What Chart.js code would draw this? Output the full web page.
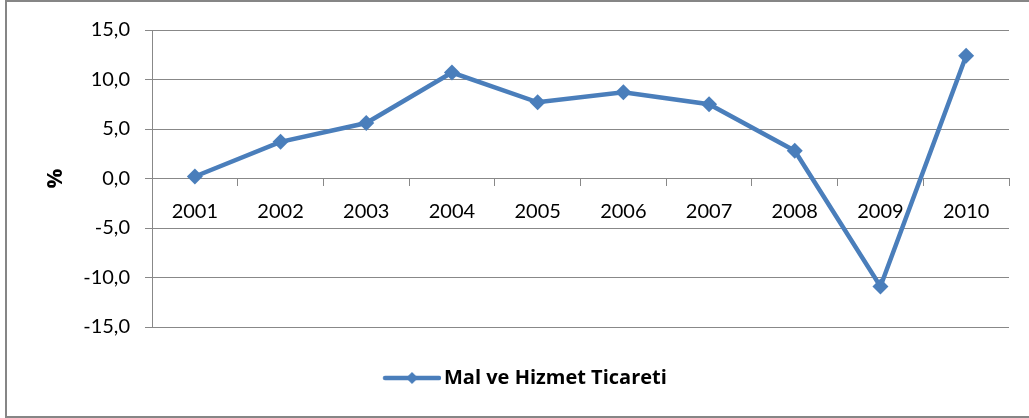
<!DOCTYPE html>
<html>
<head>
<meta charset="utf-8">
<script src="https://cdn.jsdelivr.net/npm/chart.js@4"></script>
<style>
  html, body { margin: 0; padding: 0; background: #fff; overflow: hidden; }
  #wrap { position: relative; width: 1029px; height: 418px; }
  #frame { position: absolute; left: 5px; top: 0; width: 1100px; height: 418px; box-sizing: border-box;
           border: 2px solid #868686; pointer-events: none; }
</style>
</head>
<body>
<div id="wrap">
  <canvas id="c" width="1029" height="418"></canvas>
  <div id="frame"></div>
</div>
<script>
const years = ['2001', '2002', '2003', '2004', '2005', '2006', '2007', '2008', '2009', '2010'];
const tradeValues = [0.2, 3.7, 5.6, 10.7, 7.7, 8.7, 7.5, 2.8, -10.9, 12.4];
const seriesName = 'Mal ve Hizmet Ticareti';
const yTicks = [-15, -10, -5, 0, 5, 10, 15];
const yTitle = '%';

const BLUE = '#4A7EBB';
const GRID = '#888888';
const FONT = 'Lato, "Open Sans", sans-serif';
const LEG_FONT = '"Open Sans", Lato, sans-serif';
const LEG_SIZE = 20;

// legend layout: symbol (line + diamond) spans 383..441, text starts at 444
const legCenter = (6 + (1029 - 20)) / 2;
const mctx = document.createElement('canvas').getContext('2d');
mctx.font = 'bold ' + LEG_SIZE + 'px ' + LEG_FONT;
const textW = mctx.measureText(seriesName).width;
const half = LEG_SIZE / 2;
const boxW = Math.max(10, 2 * (444 - legCenter) - half + textW);
const x0 = legCenter - (boxW + half + textW) / 2;
const symCenter = x0 + boxW / 2;
const symRight = 441, symLeft = 383;
const symW = Math.ceil(2 * Math.max(symRight - symCenter, symCenter - symLeft));
const sym = document.createElement('canvas');
sym.width = symW; sym.height = 14;
(function () {
  const g = sym.getContext('2d');
  const off = symW / 2 - symCenter; // canvas x = page x + off
  const a = symLeft + off, b = symRight + off, m = (a + b) / 2;
  g.strokeStyle = BLUE; g.lineWidth = 4.5; g.lineCap = 'round';
  g.beginPath(); g.moveTo(a + 2, 7); g.lineTo(b - 2, 7); g.stroke();
  g.fillStyle = BLUE;
  g.beginPath(); g.moveTo(m, 1); g.lineTo(m + 6, 7); g.lineTo(m, 13); g.lineTo(m - 6, 7); g.closePath(); g.fill();
})();

new Chart(document.getElementById('c'), {
  type: 'line',
  data: {
    labels: years,
    datasets: [{
      label: seriesName,
      data: tradeValues,
      borderColor: BLUE,
      backgroundColor: BLUE,
      borderWidth: 4.5,
      tension: 0,
      pointStyle: 'rectRot',
      pointRadius: 8,
      pointHoverRadius: 8,
      pointBackgroundColor: BLUE,
      pointBorderColor: BLUE,
      pointBorderWidth: 0
    }]
  },
  options: {
    responsive: false,
    animation: false,
    layout: { padding: { left: 6, right: 20, top: 30, bottom: 20 } },
    scales: {
      x: {
        type: 'category',
        position: { y: 0 },
        offset: true,
        grid: { display: true, drawOnChartArea: false, drawTicks: true, tickLength: 7, color: GRID, offset: true },
        border: { display: true, color: GRID, width: 1 },
        ticks: { color: '#000', font: { family: FONT, size: 20 }, padding: 14, maxRotation: 0, autoSkip: false }
      },
      y: {
        min: -15, max: 15,
        afterBuildTicks: (s) => { s.ticks = yTicks.map(v => ({ value: v })); },
        afterFit: (s) => { s.width = 146; },
        grid: { color: GRID, tickLength: 7, lineWidth: 1 },
        border: { display: true, color: GRID, width: 1 },
        ticks: {
          color: '#000', font: { family: FONT, size: 20 }, padding: 15,
          callback: (v) => Number(v).toFixed(1).replace('.', ',')
        },
        title: { display: true, text: yTitle, color: '#000', font: { family: LEG_FONT, size: 22, weight: 'bold' }, padding: { top: 37, bottom: 0 } }
      }
    },
    plugins: {
      tooltip: { enabled: false },
      subtitle: { display: true, text: '', position: 'bottom', weight: 500, font: { size: 1, lineHeight: 1 }, padding: { top: 0, bottom: 30 } },
      legend: {
        position: 'bottom',
        weight: 1000,
        labels: {
          usePointStyle: true,
          pointStyle: sym,
          pointStyleWidth: boxW,
          padding: 10,
          color: '#000',
          font: { family: LEG_FONT, size: LEG_SIZE, weight: 'bold' }
        }
      }
    }
  }
});
</script>
</body>
</html>
